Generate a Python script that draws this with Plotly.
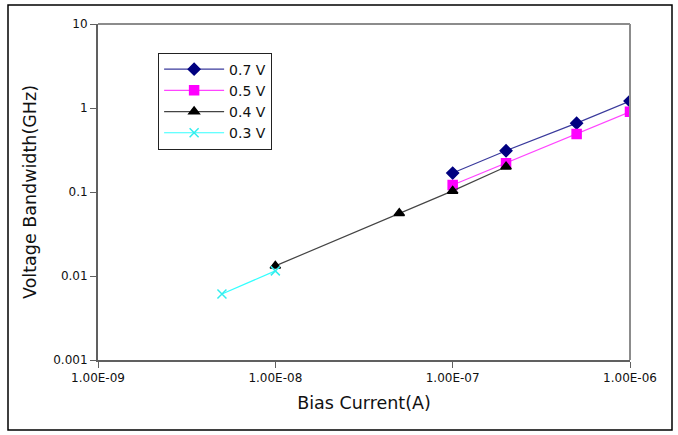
import plotly.graph_objects as go

# Bias current (A) and voltage bandwidth (GHz) per supply voltage
current_07 = [1e-7, 2e-7, 5e-7, 1e-6]
bw_07 = [0.168, 0.31, 0.66, 1.21]

current_05 = [1e-7, 2e-7, 5e-7, 1e-6]
bw_05 = [0.121, 0.22, 0.49, 0.90]

current_04 = [1e-8, 5e-8, 1e-7, 2e-7]
bw_04 = [0.0132, 0.056, 0.103, 0.20]

current_03 = [5e-9, 1e-8]
bw_03 = [0.0061, 0.0115]

x_tickvals = [1e-9, 1e-8, 1e-7, 1e-6]
x_ticktext = ["1.00E-09", "1.00E-08", "1.00E-07", "1.00E-06"]
y_tickvals = [0.001, 0.01, 0.1, 1, 10]
y_ticktext = ["0.001", "0.01", "0.1", "1", "10"]

FONT = "DejaVu Sans"

series = [
    ("0.7 V", current_07, bw_07, "#3a3a9c", "#000080", "diamond", 9),
    ("0.5 V", current_05, bw_05, "#ff44ff", "#ff00ff", "square", 9),
    ("0.4 V", current_04, bw_04, "#444444", "#000000", "triangle-up", 9),
    ("0.3 V", current_03, bw_03, "#33ffff", "#33eeee", "x-thin", 9),
]

fig = go.Figure()
for name, xs, ys, lc, mc, sym, size in series:
    fig.add_trace(go.Scatter(
        x=xs, y=ys, name=name, mode="lines+markers",
        line=dict(color=lc, width=1.2),
        marker=dict(symbol=sym, size=size, color=mc,
                    line=dict(color=mc, width=1.5)),
    ))

axis_col = "#606060"
fig.update_layout(
    width=678, height=435,
    margin=dict(l=98, r=48, t=24, b=75),
    paper_bgcolor="white", plot_bgcolor="white",
    font=dict(family=FONT, size=12, color="#111111"),
    showlegend=True,
    legend=dict(
        x=0.113, y=0.915, xanchor="left", yanchor="top",
        bordercolor="#222222", borderwidth=1, bgcolor="white",
        font=dict(family=FONT, size=14, color="#111111"),
        itemwidth=60, tracegroupgap=0,
    ),
    xaxis=dict(
        type="log", range=[-9, -6],
        tickvals=x_tickvals, ticktext=x_ticktext,
        showgrid=False, zeroline=False,
        showline=True, linecolor=axis_col, linewidth=2,
        ticks="outside", ticklen=6, tickcolor=axis_col, tickwidth=1,
        tickfont=dict(family=FONT, size=12),
        title=dict(text="Bias Current(A)", font=dict(family=FONT, size=17.5), standoff=12),
    ),
    yaxis=dict(
        type="log", range=[-3, 1],
        tickvals=y_tickvals, ticktext=y_ticktext,
        showgrid=False, zeroline=False,
        showline=True, linecolor=axis_col, linewidth=2,
        ticks="outside", ticklen=6, tickcolor=axis_col, tickwidth=1,
        tickfont=dict(family=FONT, size=12),
        title=dict(text="Voltage Bandwidth(GHz)", font=dict(family=FONT, size=17.5), standoff=12),
    ),
    shapes=[
        # top and right plot-area edges
        dict(type="line", xref="x domain", yref="y domain", x0=0, x1=1, y0=1, y1=1,
             line=dict(color="#8c8c8c", width=2)),
        dict(type="line", xref="x domain", yref="y domain", x0=1, x1=1, y0=0, y1=1,
             line=dict(color="#8c8c8c", width=2)),
        # outer chart frame
        dict(type="rect", xref="paper", yref="paper",
             x0=-90 / 532, x1=(672 - 98) / 532, y0=-(430 - 360) / 336, y1=(360 - 5) / 336,
             line=dict(color="#000000", width=1.5)),
    ],
)

fig.write_html("out.html")
